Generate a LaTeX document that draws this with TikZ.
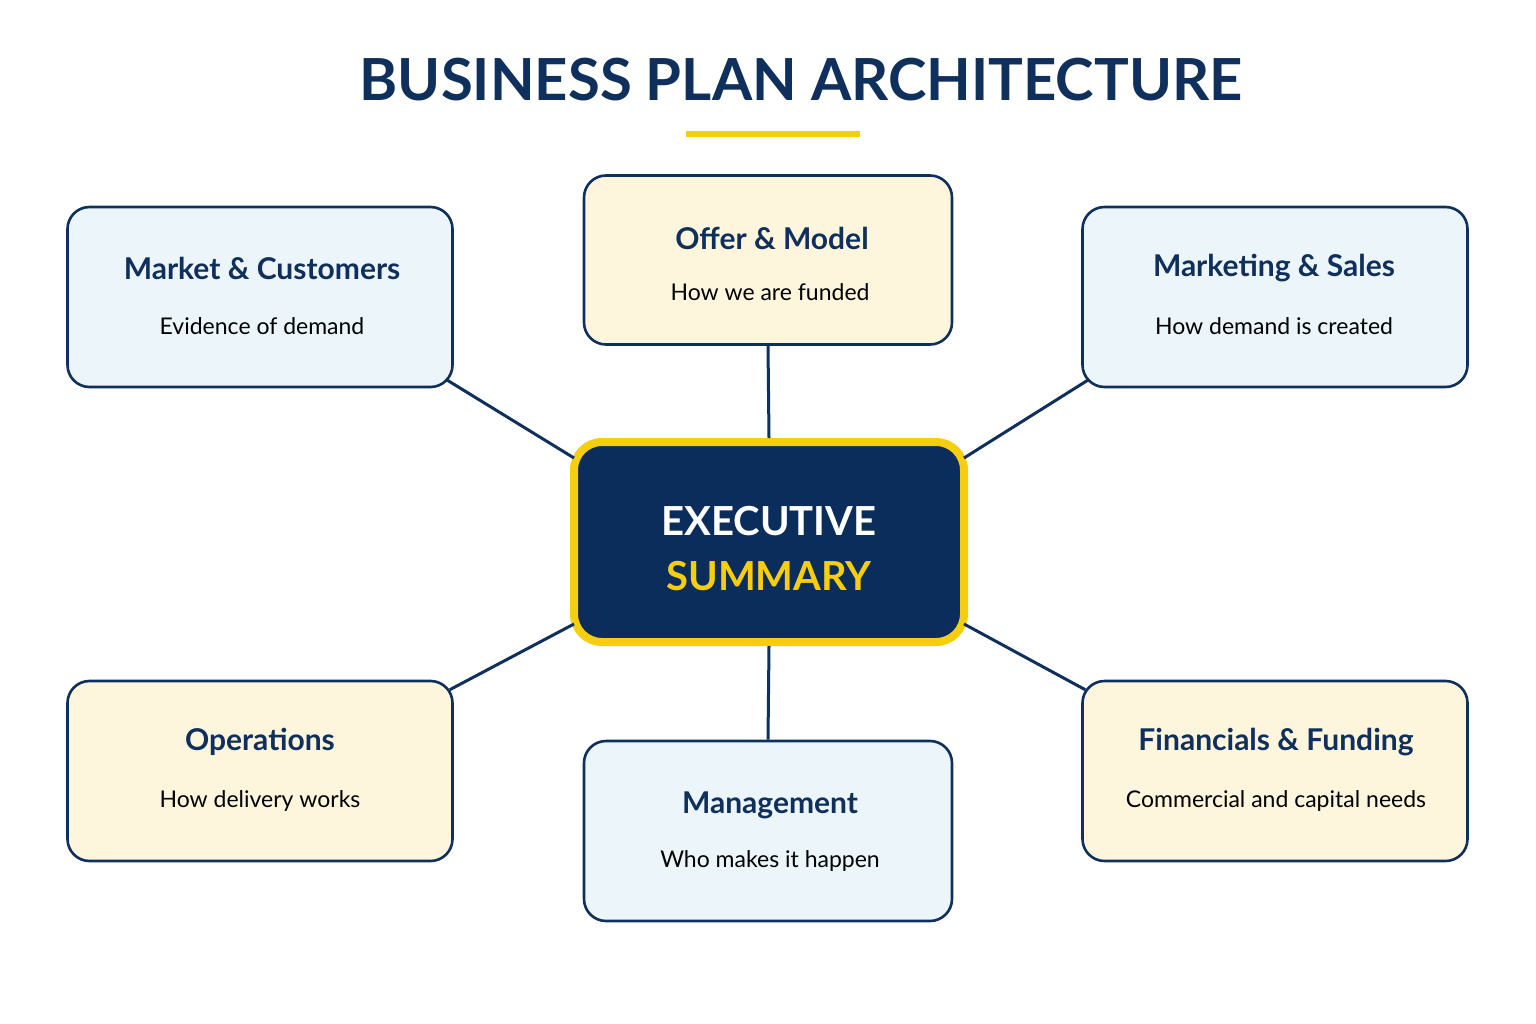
\documentclass[tikz,border=0pt]{standalone}
\usepackage{fontspec}
\setmainfont{Lato}
\usetikzlibrary{calc}
\definecolor{navy}{HTML}{0F2F5C}
\definecolor{exfill}{HTML}{0B2D5B}
\definecolor{gold}{HTML}{F7CE0E}
\definecolor{bluef}{HTML}{EBF5FA}
\definecolor{yelf}{HTML}{FDF6DC}
\begin{document}
\begin{tikzpicture}[x=1pt,y=-1pt,
  box/.style={draw=navy,line width=2.6pt,rounded corners=22pt,minimum width=385pt,minimum height=180pt,inner sep=0pt},
  tt/.style={font=\fontsize{30}{34}\selectfont\bfseries,text=navy},
  st/.style={font=\fontsize{23}{27}\selectfont,text=black},
  link/.style={draw=navy,line width=3pt}]
\useasboundingbox[fill=white] (0,0) rectangle (1536,1024);
\node[font=\fontsize{58}{62}\selectfont\bfseries,text=navy] (title) at (801,80) {BUSINESS PLAN ARCHITECTURE};
\draw[gold,line width=6pt] (686,134) -- (860,134);
\node[box,fill=bluef] (mc) at (260,297) {};
\node[box,fill=yelf,minimum width=368pt,minimum height=169pt] (om) at (768,260) {};
\node[box,fill=bluef] (ms) at (1275,297) {};
\node[box,fill=yelf] (op) at (260,771) {};
\node[box,fill=bluef,minimum width=368pt] (mg) at (768,831) {};
\node[box,fill=yelf] (ff) at (1275,771) {};
\node[draw=gold,fill=exfill,line width=8pt,rounded corners=28pt,minimum width=390pt,minimum height=200pt] (ex) at (769,542) {};
\node[font=\fontsize{40}{44}\selectfont\bfseries,text=white] (ex1) at (769,521) {EXECUTIVE};
\node[font=\fontsize{40}{44}\selectfont\bfseries,text=gold] (ex2) at (769,576) {SUMMARY};
\node[tt] (t1) at (262,268) {Market \& Customers};
\node[st] (s1) at (262,326) {Evidence of demand};
\node[tt] (t2) at (772,238) {Offer \& Model};
\node[st] (s2) at (770,292) {How we are funded};
\node[tt] (t3) at (1274,268) {Marketing \& Sales};
\node[st] (s3) at (1274,326) {How demand is created};
\node[tt] (t4) at (260,742) {Operations};
\node[st] (s4) at (260,801) {How delivery works};
\node[tt] (t5) at (770,805) {Management};
\node[st] (s5) at (770,861) {Who makes it happen};
\node[tt] (t6) at (1276,742) {Financials \& Funding};
\node[st] (s6) at (1276,801) {Commercial and capital needs};
\begin{scope}[on background layer/.style={}]
\end{scope}
\draw[link] ($(mc.south east)+(-8,-9)$) -- ($(ex.north west)+(4,20)$);
\draw[link] (om.south) -- (ex.north);
\draw[link] ($(ms.south west)+(8,-9)$) -- ($(ex.north east)+(-4,20)$);
\draw[link] ($(op.north east)+(-4,10)$) -- ($(ex.south west)+(4,-22)$);
\draw[link] (mg.north) -- (ex.south);
\draw[link] ($(ff.north west)+(4,10)$) -- ($(ex.south east)+(-4,-22)$);
\end{tikzpicture}
\end{document}
